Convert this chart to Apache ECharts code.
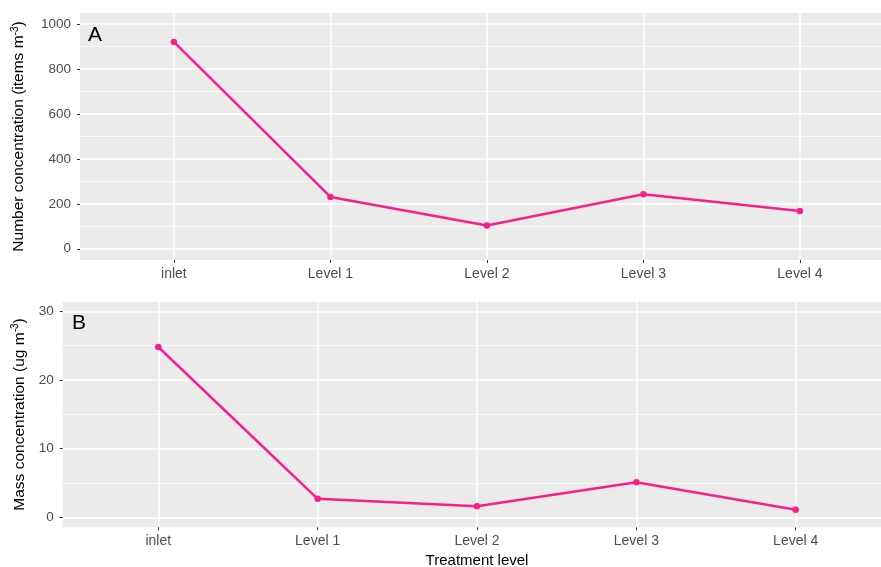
<!DOCTYPE html>
<html>
<head>
<meta charset="utf-8">
<script src="https://cdn.jsdelivr.net/npm/echarts@6/dist/echarts.min.js"></script>
<style>
  html, body { margin: 0; padding: 0; background: #ffffff; }
  #chart { width: 881px; height: 567px; }
</style>
</head>
<body>
<div id="chart"></div>
<script>
// Treatment stages along the x axis
const categories = ['inlet', 'Level 1', 'Level 2', 'Level 3', 'Level 4'];

// Panel A: number concentration (items m^-3)
const numberConc = [921, 231, 104, 243, 168];
// Panel B: mass concentration (ug m^-3)
const massConc = [24.8, 2.7, 1.6, 5.1, 1.1];

// Tick positions
const xTicks = [0, 1, 2, 3, 4];
const numberTicks = [0, 200, 400, 600, 800, 1000];
const massTicks = [0, 10, 20, 30];

const FONT = '"Liberation Sans", Arial, Helvetica, sans-serif';
const PANEL = '#ebebeb';
const LINE = '#f7208a';

const chart = echarts.init(document.getElementById('chart'), null, { renderer: 'canvas' });

function xAxisFor(gridIndex, withName) {
  const ax = {
    type: 'value',
    gridIndex: gridIndex,
    min: -0.6,
    max: 4.6,
    minInterval: 1,
    maxInterval: 1,
    axisLine: { show: false, onZero: false },
    axisTick: { show: true, length: 3, customValues: xTicks, lineStyle: { color: '#333333', width: 1 } },
    axisLabel: {
      customValues: xTicks,
      formatter: v => categories[Math.round(v)] || '',
      color: '#4d4d4d', fontFamily: FONT, fontSize: 14, margin: 7
    },
    splitLine: { show: true, lineStyle: { color: '#ffffff', width: 1.5 } }
  };
  if (withName) {
    Object.assign(ax, {
      name: 'Treatment level',
      nameLocation: 'middle',
      nameGap: 26,
      nameTextStyle: { color: '#000000', fontFamily: FONT, fontSize: 15 }
    });
  }
  return ax;
}

function yAxisFor(gridIndex, min, max, step, ticks, nameRich, nameGap) {
  return {
    type: 'value',
    gridIndex: gridIndex,
    min: min,
    max: max,
    minInterval: step,
    maxInterval: step,
    axisLine: { show: false, onZero: false },
    axisTick: { show: true, length: 3, customValues: ticks, lineStyle: { color: '#333333', width: 1 } },
    axisLabel: {
      customValues: ticks,
      formatter: v => String(v),
      color: '#4d4d4d', fontFamily: FONT, fontSize: 13.5, margin: 9
    },
    splitLine: { show: true, lineStyle: { color: '#ffffff', width: 1.5 } },
    minorTick: { show: false, splitNumber: 2 },
    minorSplitLine: { show: true, lineStyle: { color: '#ffffff', width: 0.7 } },
    name: nameRich,
    nameLocation: 'middle',
    nameGap: nameGap,
    nameTextStyle: {
      color: '#000000', fontFamily: FONT, fontSize: 15.5,
      rich: {
        t: { color: '#000000', fontFamily: FONT, fontSize: 15.5 },
        s: { color: '#000000', fontFamily: FONT, fontSize: 10, verticalAlign: 'top', padding: [0, 0, 8, 0] }
      }
    }
  };
}

const option = {
  backgroundColor: '#ffffff',
  animation: false,
  grid: [
    { left: 80, top: 13, width: 813.8, height: 247, backgroundColor: PANEL, show: true, borderWidth: 0, outerBoundsMode: 'none', containLabel: false },
    { left: 62.7, top: 301.7, width: 828.6, height: 225.6, backgroundColor: PANEL, show: true, borderWidth: 0, outerBoundsMode: 'none', containLabel: false }
  ],
  xAxis: [xAxisFor(0, false), xAxisFor(1, true)],
  yAxis: [
    yAxisFor(0, -50, 1050, 200, numberTicks, '{t|Number concentration (items m}{s|-3}{t|)}', 52),
    yAxisFor(1, -1.45, 31.4, 10, massTicks, '{t|Mass concentration (ug m}{s|-3}{t|)}', 34)
  ],
  graphic: [
    { type: 'text', left: 88, top: 25, style: { text: 'A', font: '21px ' + FONT, fill: '#000000' } },
    { type: 'text', left: 72, top: 313, style: { text: 'B', font: '21px ' + FONT, fill: '#000000' } }
  ],
  series: [
    {
      type: 'line',
      xAxisIndex: 0, yAxisIndex: 0,
      data: numberConc.map((v, i) => [i, v]),
      symbol: 'circle', symbolSize: 6.5,
      lineStyle: { color: LINE, width: 2.5 },
      itemStyle: { color: LINE },
      z: 5
    },
    {
      type: 'line',
      xAxisIndex: 1, yAxisIndex: 1,
      data: massConc.map((v, i) => [i, v]),
      symbol: 'circle', symbolSize: 6.5,
      lineStyle: { color: LINE, width: 2.5 },
      itemStyle: { color: LINE },
      z: 5
    }
  ]
};

chart.setOption(option);
</script>
</body>
</html>
